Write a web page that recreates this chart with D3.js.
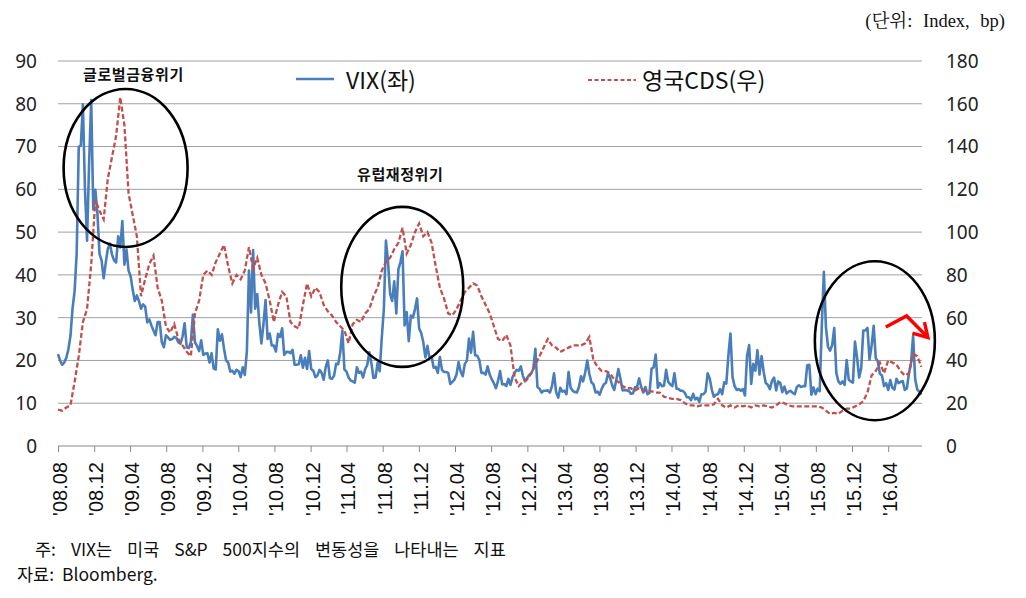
<!DOCTYPE html>
<html><head><meta charset="utf-8">
<script src="https://cdn.jsdelivr.net/npm/d3@7"></script>
<style>body{margin:0;background:#fff}svg{display:block}</style>
</head><body><svg id="c" width="1026" height="598"></svg>
<script>
// ---------- DATA ----------
const leftTicks = [0,10,20,30,40,50,60,70,80,90];
const rightTicks = [0,20,40,60,80,100,120,140,160,180];
const xTickLabels = ["'08.08","'08.12","'09.04","'09.08","'09.12","'10.04","'10.08","'10.12",
  "'11.04","'11.08","'11.12","'12.04","'12.08","'12.12","'13.04","'13.08","'13.12",
  "'14.04","'14.08","'14.12","'15.04","'15.08","'15.12","'16.04"];
const seriesNames = ["VIX(좌)", "영국CDS(우)"];
const annotations = ["글로벌금융위기", "유럽재정위기"];
const unitText = "(단위: Index, bp)";
const notes = ["주: VIX는 미국 S&P 500지수의 변동성을 나타내는 지표", "자료: Bloomberg."];

// VIX, weekly from 2008-08-01
const vixStart = "2008-08-01";
const vix = [
 // 2008
 21.5,20.0,19.0,19.5,20.6, 22.6,25.7,32.1,36.2, 45.1,69.9,70.3,79.9,59.9, 48.0,66.3,80.9,55.3, 59.9,54.3,44.9,43.4,
 // 2009
 39.2,42.8,46.1,47.3,44.8, 43.4,42.9,49.0,46.4, 52.6,42.4,45.9,41.0, 39.7,36.5,33.9,35.2, 33.9,32.1,33.1,32.6,28.9,
 29.6,28.2,27.0,25.9, 29.0,29.0,24.3,23.1,25.9, 25.4,24.8,25.0,25.5, 25.3,24.2,23.9,25.6, 28.7,23.1,22.9,24.2,30.7,
 24.2,23.4,22.2,24.7, 21.3,21.6,21.7,19.5,
 // 2010
 21.7,18.1,17.9,27.3,24.6, 26.1,22.7,20.0,19.5, 17.4,17.6,16.9,17.8, 17.5,16.1,18.4,16.6,22.1, 41.0,31.2,45.8,32.1,
 35.5,28.8,24.0,28.5, 34.1,25.0,26.3,23.5,23.5, 22.1,26.2,25.5,27.5, 21.3,22.0,22.0,21.7, 22.5,19.0,19.0,19.1,21.2,
 18.3,20.6,18.0,22.2, 18.0,17.6,16.1,16.5,17.8,
 // 2011
 17.1,15.5,18.5,20.0, 15.9,15.7,16.4,19.2, 19.1,21.9,27.0,17.9, 17.4,16.0,15.3,15.1,14.8, 18.4,17.1,17.4,16.0,
 18.0,18.9,21.9,19.3, 15.9,16.0,19.5,17.5,25.3, 32.0,48.0,43.1,35.6, 33.9,38.5,31.0,41.3,43.0, 45.5,28.2,31.3,24.5,
 30.5,30.0,32.0,34.5, 27.5,26.4,24.3,20.7,23.4,
 // 2012
 20.6,20.9,18.3,18.5, 17.1,20.8,17.8,17.3, 17.3,17.1,14.5,15.0,15.5, 16.7,19.6,17.4,16.3, 19.2,19.9,25.1,21.8,
 26.7,21.2,21.1,20.1,17.1, 17.1,16.7,18.6,16.7, 15.6,14.7,13.5,15.2,17.5, 14.4,14.5,14.0,15.7, 14.3,16.1,17.1,17.8,
 17.6,18.6,16.4,15.1,15.9, 16.6,17.0,18.0,22.7,
 // 2013
 13.8,13.4,12.5,12.9, 12.9,13.0,12.5,14.0, 17.0,12.6,11.3,13.6,12.7, 12.9,12.1,17.3,13.6, 12.9,12.6,12.5,13.8,16.3,
 15.1,17.2,20.0,16.9, 14.9,14.4,12.5,12.7, 12.0,13.4,14.4,14.8,17.0, 15.9,14.2,13.1,15.5, 18.0,15.7,13.0,13.1,
 13.0,12.9,12.2,12.3,13.7, 13.8,15.8,13.8,12.5,
 // 2014
 13.8,12.1,12.4,18.1,18.4, 21.4,13.6,14.7,14.0, 14.1,17.8,15.0,14.4, 14.0,17.0,13.4,13.3, 12.9,12.9,12.4,11.4,11.4,
 10.7,12.2,10.9,11.3, 10.3,12.1,12.1,12.7, 17.0,15.8,13.2,11.5,12.0, 12.1,13.3,12.1,14.9, 14.6,21.2,26.3,16.1,14.0,
 13.1,13.3,12.9,13.3, 11.8,21.1,23.6,14.5,
 // 2015
 19.2,17.6,22.4,16.7,21.0, 17.3,14.7,14.3,13.3, 15.2,16.0,13.0,15.1, 14.7,12.6,13.9,12.3, 12.7,12.9,12.4,12.1,13.8,
 14.2,13.8,14.0,14.0, 18.9,19.0,12.0,13.7,12.1, 13.4,12.8,28.0,40.7, 27.8,23.2,22.3,23.6, 27.6,17.1,15.1,14.5,15.1,
 14.3,20.1,15.5,15.1, 14.8,24.4,20.7,16.0,
 // 2016
 18.2,27.0,27.0,27.6,20.2, 23.4,28.1,20.5,19.8, 16.9,16.5,14.0,14.7, 13.1,15.4,13.6,13.2,15.7, 14.7,15.0,15.2,13.1,
 13.5,17.0,19.4,25.8, 15.6,13.2,12.7,12.0
];

// UK CDS (bp), every two weeks from 2008-08-01
const cdsStart = "2008-08-01";
const cds = [
 // 2008
 17,16.5,18,19,30,42,58,64,85,115,110,
 // 2009
 106,125,135,145,163,150,118,108,98,70, 78,85,89,74,68,56,53,57,50,47, 44,42,62,68,80,82,
 // 2010
 80,86,90,94,84,76,80,78,82,93, 83,88,80,76,68,58,66,72,70,58, 56,55,66,76,70,74,72,
 // 2011
 66,63,61,58,56,54,48,57,59,58, 62,64,70,74,82,86,88,92,95,102, 90,94,100,104,98,100,
 // 2012
 95,84,74,69,62,61,64,68,72,74, 76,75,70,66,62,56,50,49,52,47, 32,28,30,31,34,38,
 // 2013
 42,46,50,47,46,44,45,46,47,47, 47,48,51,40,37,35,35,34,31,30, 28,27,27,26,27,26,
 // 2014
 26,25.5,25,25,23,22.5,22,22,21.5,20, 19,19,18.5,19,19,19,19.5,22,19,18, 19,18,19,18.5,19,18,
 // 2015
 19,18.5,19,18.5,18,19,20.5,20,19,18.5, 18.5,18.5,18.5,18.5,18.5,18.5,18,16.5,15,15.5, 15,16.5,17.5,17.5,18.5,19.5,
 // 2016
 21,25,33,35,39,34,40,39,38,35,33,34,43,42,37
];

// ---------- CHART ----------
const svg = d3.select("#c");
const m = {left: 58, right: 922, top: 61, bottom: 446};
const parse = d3.timeParse("%Y-%m-%d");

const x = d3.scaleTime()
  .domain([parse("2008-08-01"), parse("2016-07-24")])
  .range([m.left, m.right]);
const yL = d3.scaleLinear().domain([0, 90]).range([m.bottom, m.top]);
const yR = d3.scaleLinear().domain([0, 180]).range([m.bottom, m.top]);

const vixData = vix.map((v, i) => ({d: d3.timeDay.offset(parse(vixStart), 7 * i), v}));
const cdsData = cds.map((v, i) => ({d: d3.timeDay.offset(parse(cdsStart), 14 * i), v}));

const numFont = "'Noto Sans', 'Open Sans', sans-serif";
const krFont = "'Noto Sans CJK KR', 'Noto Sans', sans-serif";

// gridlines
svg.append("g").selectAll("line").data(leftTicks.filter(t => t > 0)).join("line")
  .attr("x1", m.left).attr("x2", m.right)
  .attr("y1", d => yL(d)).attr("y2", d => yL(d))
  .attr("stroke", "#a0a0a0").attr("stroke-width", 1);

// left axis labels
svg.append("g").selectAll("text").data(leftTicks).join("text")
  .attr("x", 37).attr("y", d => yL(d)).attr("dy", "0.36em")
  .attr("text-anchor", "end")
  .attr("font-family", numFont).attr("font-size", 19).attr("fill", "#222")
  .text(d => d);

// right axis labels
svg.append("g").selectAll("text").data(rightTicks).join("text")
  .attr("x", 946).attr("y", d => yR(d)).attr("dy", "0.36em")
  .attr("text-anchor", "start")
  .attr("font-family", numFont).attr("font-size", 19).attr("fill", "#222")
  .text(d => d);

// x axis
const tickDates = xTickLabels.map(s => new Date(2000 + +s.slice(1, 3), +s.slice(4, 6) - 1, 1));
const xAxis = d3.axisBottom(x).tickValues(tickDates).tickSize(6).tickFormat((d, i) => xTickLabels[i]);
const gx = svg.append("g").attr("transform", `translate(0,${m.bottom})`).call(xAxis);
gx.select(".domain").attr("stroke", "#8a8a8a").attr("d", `M${m.left},0H${m.right}`);
gx.selectAll(".tick line").attr("stroke", "#8a8a8a");
gx.selectAll(".tick text")
  .attr("font-family", "'Liberation Sans', Arial, sans-serif").attr("font-size", 20).attr("fill", "#111")
  .attr("text-anchor", "end")
  .attr("transform", "translate(0,16) rotate(-90)")
  .attr("x", 0).attr("y", 0).attr("dy", "0.42em");

// lines
svg.append("path").datum(vixData)
  .attr("fill", "none").attr("stroke", "#4a7ebb").attr("stroke-width", 2.6)
  .attr("stroke-linejoin", "round")
  .attr("d", d3.line().x(d => x(d.d)).y(d => yL(d.v)));

svg.append("path").datum(cdsData)
  .attr("fill", "none").attr("stroke", "#c0504d").attr("stroke-width", 2.3)
  .attr("stroke-dasharray", "5,2.5")
  .attr("d", d3.line().x(d => x(d.d)).y(d => yR(d.v)));

// ellipses
const ell = [
  {cx: x(parse("2009-03-17")), cy: yL(65), rx: 62, ry: 79},
  {cx: x(parse("2011-10-06")), cy: yL(37.2), rx: 61, ry: 80},
  {cx: x(parse("2016-02-16")), cy: yL(24.6), rx: 60, ry: 79.5}
];
svg.append("g").selectAll("ellipse").data(ell).join("ellipse")
  .attr("cx", d => d.cx).attr("cy", d => d.cy).attr("rx", d => d.rx).attr("ry", d => d.ry)
  .attr("fill", "none").attr("stroke", "#000").attr("stroke-width", 2.6);

// annotations
svg.append("text").attr("x", 83).attr("y", 75).attr("dy", "0.36em")
  .attr("font-family", krFont).attr("font-weight", "bold").attr("font-size", 15)
  .attr("letter-spacing", 0.6).attr("fill", "#111").text(annotations[0]);
svg.append("text").attr("x", 357).attr("y", 175).attr("dy", "0.36em")
  .attr("font-family", krFont).attr("font-weight", "bold").attr("font-size", 15)
  .attr("letter-spacing", 0.6).attr("fill", "#111").text(annotations[1]);

// red arrow
const ax0 = x(parse("2016-03-24")), ay0 = yR(55.6);
const ax1 = x(parse("2016-06-02")), ay1 = yR(60.8);
const ax2 = x(parse("2016-08-08")), ay2 = yR(51.4);
svg.append("path")
  .attr("d", `M${ax0},${ay0}L${ax1},${ay1}L${ax2},${ay2}`)
  .attr("fill", "none").attr("stroke", "#ff0000").attr("stroke-width", 3.4).attr("stroke-linejoin", "miter");
svg.append("path")
  .attr("d", `M${ax2 - 14},${ay2 - 3}L${ax2 + 1.5},${ay2 + 1.5}L${ax2 - 2},${ay2 - 14}`)
  .attr("fill", "none").attr("stroke", "#ff0000").attr("stroke-width", 3.4).attr("stroke-linejoin", "miter");

// legend
svg.append("line").attr("x1", 296).attr("x2", 334).attr("y1", 79).attr("y2", 79)
  .attr("stroke", "#4a7ebb").attr("stroke-width", 2.4);
svg.append("text").attr("x", 346).attr("y", 81).attr("dy", "0.36em")
  .attr("font-family", krFont).attr("font-size", 23).attr("fill", "#111").text(seriesNames[0]);
svg.append("line").attr("x1", 588).attr("x2", 636).attr("y1", 80).attr("y2", 80)
  .attr("stroke", "#c0504d").attr("stroke-width", 2).attr("stroke-dasharray", "4,2.5");
svg.append("text").attr("x", 642).attr("y", 81).attr("dy", "0.36em")
  .attr("font-family", krFont).attr("font-size", 23).attr("fill", "#111").text(seriesNames[1]);

// unit
svg.append("text").attr("x", 1005).attr("y", 20).attr("dy", "0.36em").attr("text-anchor", "end")
  .attr("font-family", "'Liberation Serif', 'Noto Serif CJK KR', serif").attr("font-size", 18.5).attr("fill", "#111")
  .attr("word-spacing", 6)
  .text(unitText);

// notes
svg.append("text").attr("x", 35).attr("y", 550).attr("dy", "0.36em")
  .attr("font-family", krFont).attr("font-size", 17.5).attr("fill", "#111").attr("word-spacing", 11)
  .text(notes[0]);
svg.append("text").attr("x", 17).attr("y", 575).attr("dy", "0.36em")
  .attr("font-family", krFont).attr("font-size", 17.5).attr("fill", "#111").attr("word-spacing", 4)
  .text(notes[1]);
</script>
</body></html>
